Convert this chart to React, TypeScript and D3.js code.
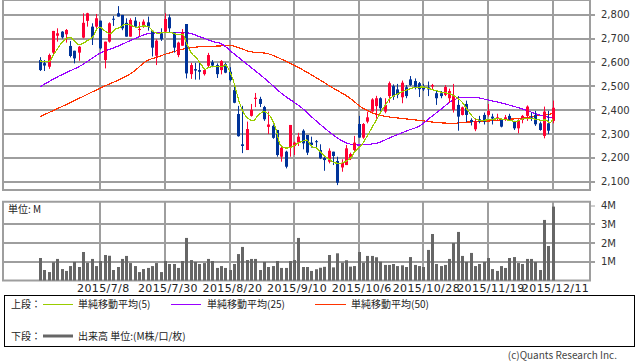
import React from "react";
import * as d3 from "d3";

// daily OHLC, index 0 = first trading day shown
const open = [
  2610, 2597, 2582, 2641, 2712, 2729, 2718, 2669, 2649, 2641,
  2704, 2774, 2750, 2750, 2775, 2610, 2687, 2783, 2806, 2799,
  2766, 2708, 2775, 2737, 2750, 2768, 2733, 2628, 2722, 2729,
  2789, 2726, 2631, 2670, 2761, 2551, 2572, 2568, 2551, 2586,
  2601, 2589, 2568, 2593, 2561, 2484, 2384, 2257, 2233, 2376,
  2447, 2447, 2413, 2330, 2334, 2317, 2205, 2226, 2244, 2250,
  2264, 2314, 2296, 2264, 2270, 2233, 2200, 2184, 2226, 2187,
  2160, 2170, 2198, 2233, 2342, 2285, 2352, 2394, 2417, 2450,
  2394, 2459, 2501, 2487, 2454, 2496, 2529, 2522, 2513, 2499,
  2496, 2499, 2471, 2471, 2464, 2450, 2401, 2422, 2380, 2426,
  2359, 2320, 2362, 2380, 2380, 2373, 2366, 2359, 2362, 2376,
  2352, 2324, 2359, 2376, 2370, 2380, 2345, 2292, 2345, 2355,
];
const high = [
  2622, 2610, 2637, 2732, 2743, 2731, 2740, 2690, 2649, 2669,
  2806, 2808, 2764, 2803, 2775, 2687, 2768, 2795, 2836, 2799,
  2785, 2785, 2790, 2770, 2780, 2792, 2733, 2697, 2743, 2806,
  2801, 2726, 2687, 2740, 2761, 2598, 2598, 2606, 2575, 2640,
  2610, 2596, 2610, 2599, 2580, 2501, 2418, 2418, 2352, 2426,
  2472, 2456, 2418, 2394, 2340, 2317, 2254, 2230, 2338, 2268,
  2305, 2320, 2296, 2289, 2275, 2257, 2212, 2240, 2226, 2205,
  2194, 2254, 2222, 2292, 2376, 2346, 2394, 2450, 2460, 2454,
  2450, 2520, 2508, 2510, 2524, 2505, 2543, 2533, 2518, 2510,
  2520, 2510, 2484, 2480, 2505, 2490, 2510, 2459, 2415, 2440,
  2366, 2366, 2376, 2390, 2426, 2385, 2385, 2362, 2380, 2385,
  2355, 2362, 2380, 2420, 2390, 2397, 2352, 2415, 2397, 2440,
];
const low = [
  2564, 2564, 2573, 2635, 2687, 2700, 2683, 2621, 2596, 2607,
  2701, 2750, 2673, 2743, 2654, 2575, 2683, 2753, 2792, 2735,
  2708, 2708, 2750, 2710, 2745, 2733, 2625, 2589, 2690, 2725,
  2725, 2641, 2622, 2670, 2533, 2531, 2528, 2528, 2545, 2577,
  2580, 2535, 2550, 2555, 2520, 2429, 2289, 2220, 2233, 2373,
  2413, 2413, 2355, 2300, 2280, 2205, 2184, 2156, 2205, 2212,
  2250, 2236, 2212, 2243, 2243, 2195, 2146, 2177, 2170, 2086,
  2142, 2170, 2191, 2222, 2285, 2280, 2345, 2394, 2364, 2387,
  2387, 2431, 2443, 2450, 2429, 2450, 2501, 2487, 2455, 2480,
  2459, 2485, 2422, 2450, 2459, 2430, 2390, 2314, 2378, 2350,
  2336, 2312, 2345, 2340, 2373, 2340, 2355, 2328, 2355, 2355,
  2317, 2303, 2345, 2355, 2355, 2334, 2314, 2282, 2300, 2345,
];
const close = [
  2568, 2587, 2631, 2732, 2722, 2705, 2736, 2627, 2617, 2666,
  2766, 2806, 2704, 2785, 2659, 2687, 2764, 2779, 2792, 2743,
  2708, 2778, 2750, 2740, 2771, 2750, 2662, 2691, 2697, 2782,
  2743, 2662, 2683, 2726, 2554, 2589, 2566, 2561, 2568, 2631,
  2587, 2551, 2606, 2557, 2526, 2431, 2291, 2250, 2321, 2401,
  2452, 2426, 2362, 2340, 2284, 2212, 2242, 2163, 2338, 2264,
  2289, 2261, 2222, 2254, 2266, 2198, 2191, 2230, 2208, 2096,
  2180, 2240, 2216, 2264, 2285, 2342, 2370, 2445, 2450, 2408,
  2422, 2513, 2456, 2464, 2515, 2459, 2505, 2498, 2488, 2487,
  2487, 2505, 2450, 2459, 2497, 2480, 2459, 2373, 2412, 2380,
  2350, 2352, 2352, 2352, 2397, 2365, 2370, 2331, 2370, 2362,
  2324, 2355, 2376, 2415, 2364, 2341, 2317, 2394, 2314, 2410,
];
// volume in millions
const volume = [
  1.2, 0.56, 0.45, 0.97, 1.15, 0.61, 0.51, 0.77, 0.99, 0.72,
  1.52, 0.95, 1.15, 0.77, 1.04, 1.36, 1.32, 0.56, 0.72, 1.15,
  1.31, 0.93, 0.77, 0.45, 0.61, 0.67, 0.77, 0.93, 0.45, 1.04,
  0.88, 0.88, 0.67, 1.04, 2.27, 1.09, 0.99, 0.88, 0.93, 1.15,
  1.04, 0.67, 0.77, 0.67, 0.56, 0.88, 1.41, 1.79, 1.09, 1.15,
  1.15, 0.56, 0.99, 0.72, 0.77, 1.04, 0.67, 0.67, 1.04, 1.09,
  2.27, 0.72, 0.72, 0.51, 0.6, 0.68, 0.73, 1.36, 0.7, 1.45,
  0.95, 1.08, 0.74, 0.77, 1.52, 0.95, 1.31, 1.31, 1.24, 1.0,
  0.83, 0.83, 0.88, 0.77, 0.81, 0.72, 1.25, 0.83, 0.77, 0.72,
  1.63, 2.48, 0.88, 0.77, 0.83, 1.15, 2.0, 2.59, 1.31, 0.99,
  1.47, 0.77, 0.88, 0.99, 1.2, 0.61, 0.51, 0.77, 0.67, 1.2,
  1.25, 0.93, 0.88, 1.15, 1.15, 0.99, 0.56, 3.23, 1.84, 3.94,
];

// moving averages: [day index, price]
const ma5 = [
  [0, 2606], [2, 2603], [3.4, 2640], [5, 2681], [6.2, 2702], [7.1, 2704], [8.1, 2687],
  [9, 2673], [10, 2680], [11.2, 2694], [12.4, 2711], [13.3, 2743], [14, 2747], [15, 2733],
  [16.3, 2719], [17.4, 2739], [18.6, 2747], [19.7, 2760], [20.9, 2757], [22.4, 2747],
  [24, 2753], [25.2, 2750], [26.3, 2729], [27.5, 2722], [28.6, 2725], [30.2, 2725],
  [31.7, 2718], [33.3, 2715], [34, 2680], [35.2, 2638], [36.4, 2617], [37.5, 2589],
  [38.3, 2571], [39, 2578], [40.2, 2582], [42.2, 2582], [43.1, 2589], [43.9, 2568],
  [45.2, 2505], [46.1, 2443], [47.3, 2388], [48.8, 2359], [49.5, 2355], [50.5, 2376],
  [52, 2394], [53, 2384], [54.6, 2331], [55.8, 2254], [57, 2241], [58.5, 2246],
  [59.2, 2254], [60.7, 2268], [61.9, 2275], [63.1, 2247], [64.3, 2240], [65.4, 2219],
  [67.4, 2191], [68.5, 2179], [69.7, 2177], [70.8, 2184], [72.4, 2205], [73, 2225],
  [74, 2241], [75, 2263], [76, 2292], [77, 2325], [78, 2355], [79, 2388], [80, 2417],
  [81, 2443], [82, 2459], [83.5, 2472], [85, 2484], [87, 2495], [89, 2497], [90.5, 2489],
  [92, 2482], [93.5, 2474], [95, 2470], [96.6, 2455], [98, 2434], [99.3, 2400],
  [100.8, 2367], [102.5, 2357], [104.5, 2361], [106.5, 2364], [108.5, 2359], [110.5, 2353],
  [112.5, 2365], [114.5, 2364], [116.3, 2358], [117.5, 2359], [118.4, 2346], [119, 2362],
];
const ma25 = [
  [0, 2498], [4, 2539], [9.7, 2589], [13.9, 2638], [17.8, 2666], [21.7, 2697], [25.5, 2722],
  [29.4, 2726], [33.3, 2726], [35, 2721], [37.2, 2707], [40.3, 2687], [42, 2679],
  [44.9, 2638], [48.8, 2582], [52.6, 2526], [56.5, 2464], [60.4, 2415], [64.3, 2352],
  [68.1, 2296], [70.5, 2268], [72, 2258], [74.1, 2254], [78, 2261], [81.8, 2289],
  [85.7, 2317], [88.2, 2334], [90.5, 2367], [92.9, 2401], [96, 2443], [98.3, 2454],
  [100.6, 2454], [104, 2443], [108, 2426], [112, 2405], [116, 2380], [119, 2367],
];
const ma50 = [
  [0, 2373], [5.9, 2422], [13.9, 2492], [21.7, 2561], [24.8, 2607], [27.1, 2622], [31, 2645],
  [34.1, 2659], [37.2, 2666], [41.8, 2669], [44.1, 2671], [46.4, 2660], [48.8, 2645],
  [52.6, 2638], [56.5, 2610], [60.4, 2575], [64.3, 2534], [68.1, 2492], [72, 2450],
  [74.4, 2415], [77.4, 2387], [80.5, 2373], [83.6, 2366], [88.2, 2357], [92.9, 2347],
  [96, 2345], [99, 2350], [102.2, 2352], [106.9, 2359], [111.5, 2366], [116.2, 2378],
  [119.3, 2386],
];

const dateTickIndex = [14, 29, 44, 59, 74, 89, 104, 119];
const dateTickLabels = [
  "2015/7/8", "2015/7/30", "2015/8/20", "2015/9/10",
  "2015/10/6", "2015/10/28", "2015/11/19", "2015/12/11",
];
const priceTicks = [2100, 2200, 2300, 2400, 2500, 2600, 2700, 2800];
const volumeTicks = [1, 2, 3, 4];

const UP = "#ff0033";
const DOWN = "#003399";
const GRID = "#9e9e9e";
const NUM_FONT = "'DejaVu Sans', sans-serif";
const JP_FONT = "'Noto Sans CJK JP', sans-serif";

export default function App() {
  const left = 3;
  const right = 590;

  const x = d3.scaleLinear().domain([-8.6, 127.7]).range([left, right]);
  const y = d3.scaleLinear().domain([2065.5, 2861.6]).range([190, 0]);
  const yv = d3.scaleLinear().domain([0, 4.2]).range([280.5, 201.75]);

  const maLine = d3
    .line<number[]>()
    .x((d) => x(d[0]))
    .y((d) => y(d[1]))
    .curve(d3.curveMonotoneX);

  const px = (i: number) => Math.round(x(i));

  return (
    <svg
      width={638}
      height={362}
      style={{ position: "absolute", left: 0, top: 0, background: "#fff" }}
    >
      {/* price panel */}
      <g>
        {priceTicks.map((t) => (
          <line key={t} x1={left} x2={right + 5} y1={Math.round(y(t))} y2={Math.round(y(t))}
            stroke={GRID} strokeWidth={2} />
        ))}
        {dateTickIndex.map((t) => (
          <line key={t} x1={px(t)} x2={px(t)} y1={0} y2={190} stroke={GRID} strokeWidth={2} />
        ))}
        <rect x={left} y={0} width={right - left} height={190} fill="none" stroke={GRID} strokeWidth={2} />
        {priceTicks.map((t) => (
          <text key={t} x={601} y={y(t) + 3.6} fontSize={10} fontFamily={NUM_FONT} fill="#333">
            {d3.format(",")(t)}
          </text>
        ))}

        <path d={maLine(ma50) || ""} fill="none" stroke="#ff3300" strokeWidth={1.2} shapeRendering="crispEdges" />
        <path d={maLine(ma25) || ""} fill="none" stroke="#9900ff" strokeWidth={1.2} shapeRendering="crispEdges" />

        {close.map((c, i) => {
          const o = open[i];
          const up = c >= o;
          const col = up ? UP : DOWN;
          const cx = px(i);
          const top = y(Math.max(o, c));
          const bot = y(Math.min(o, c));
          return (
            <g key={i}>
              <line x1={cx + 0.5} x2={cx + 0.5} y1={y(high[i])} y2={y(low[i])} stroke={col} strokeWidth={1} />
              <rect x={cx - 1} y={top} width={3} height={Math.max(1, bot - top)} fill={col} />
            </g>
          );
        })}

        <path d={maLine(ma5) || ""} fill="none" stroke="#99cc00" strokeWidth={1.2} shapeRendering="crispEdges" />
      </g>

      {/* volume panel */}
      <g>
        {volumeTicks.map((t) => (
          <line key={t} x1={t === 4 ? right : left} x2={right + 5}
            y1={Math.round(yv(t))} y2={Math.round(yv(t))} stroke={GRID} strokeWidth={t === 4 ? 1 : 2} />
        ))}
        {dateTickIndex.map((t) => (
          <line key={t} x1={px(t)} x2={px(t)} y1={201.75} y2={280.5} stroke={GRID} strokeWidth={2} />
        ))}
        <rect x={left} y={201.75} width={right - left} height={280.5 - 201.75} fill="none"
          stroke={GRID} strokeWidth={2} />
        {volume.map((v, i) => (
          <rect key={i} x={px(i) - 1} y={yv(v)} width={3} height={yv(0) - yv(v)} fill="#666" />
        ))}
        {volumeTicks.map((t) => (
          <text key={t} x={601} y={yv(t) + 3.6} fontSize={10} fontFamily={NUM_FONT} fill="#333">
            {t + "M"}
          </text>
        ))}
        <text x={8} y={213} fontSize={10} fontFamily={JP_FONT} fill="#222">単位: M</text>
      </g>

      {/* date axis */}
      {dateTickIndex.map((t, k) => (
        <text key={t} x={x(t) + 3} y={292} fontSize={11} textAnchor="middle" letterSpacing={0.4}
          fontFamily={NUM_FONT} fill="#222">
          {dateTickLabels[k]}
        </text>
      ))}

      {/* legend */}
      <rect x={4.5} y={295.5} width={630} height={51} fill="none" stroke="#000" strokeWidth={1} />
      <text x={11} y={308} fontSize={10} fontFamily={JP_FONT} fill="#222">上段：</text>
      <line x1={43} x2={73} y1={304.5} y2={304.5} stroke="#99cc00" strokeWidth={1} />
      <text x={78} y={308} fontSize={10} fontFamily={JP_FONT} fill="#222">単純移動平均(5)</text>
      <line x1={171} x2={201} y1={304.5} y2={304.5} stroke="#9900ff" strokeWidth={1} />
      <text x={207} y={308} fontSize={10} fontFamily={JP_FONT} fill="#222">単純移動平均(25)</text>
      <line x1={315} x2={346} y1={304.5} y2={304.5} stroke="#ff3300" strokeWidth={1} />
      <text x={351} y={308} fontSize={10} fontFamily={JP_FONT} fill="#222">単純移動平均(50)</text>

      <text x={11} y={340} fontSize={10} fontFamily={JP_FONT} fill="#222">下段：</text>
      <line x1={43} x2={73} y1={336} y2={336} stroke="#666" strokeWidth={3} />
      <text x={78} y={340} fontSize={10} fontFamily={JP_FONT} fill="#222">出来高 単位:(M株/口/枚)</text>

      <text x={617} y={359} fontSize={10} textAnchor="end" fontFamily={JP_FONT} fill="#444">
        (c)Quants Research Inc.
      </text>
    </svg>
  );
}
